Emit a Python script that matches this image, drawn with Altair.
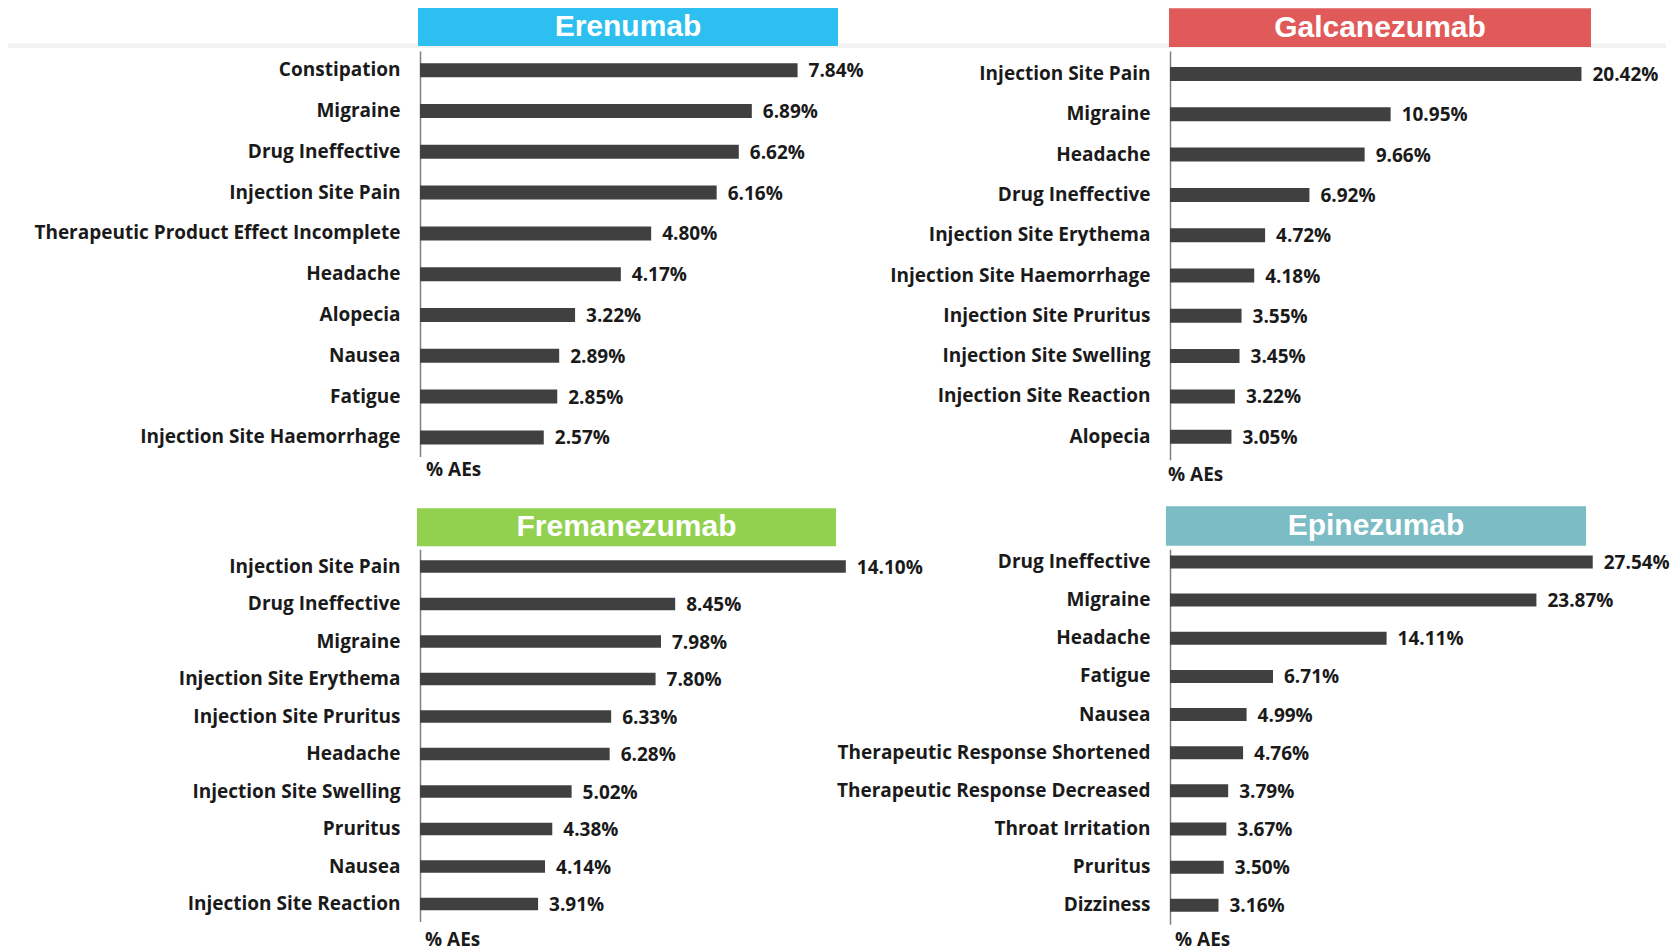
import altair as alt
import pandas as pd

# ---------------- data ----------------
ere_labels = ["Constipation", "Migraine", "Drug Ineffective", "Injection Site Pain",
              "Therapeutic Product Effect Incomplete", "Headache", "Alopecia", "Nausea",
              "Fatigue", "Injection Site Haemorrhage"]
ere_values = [7.84, 6.89, 6.62, 6.16, 4.80, 4.17, 3.22, 2.89, 2.85, 2.57]

gal_labels = ["Injection Site Pain", "Migraine", "Headache", "Drug Ineffective",
              "Injection Site Erythema", "Injection Site Haemorrhage", "Injection Site Pruritus",
              "Injection Site Swelling", "Injection Site Reaction", "Alopecia"]
gal_values = [20.42, 10.95, 9.66, 6.92, 4.72, 4.18, 3.55, 3.45, 3.22, 3.05]

fre_labels = ["Injection Site Pain", "Drug Ineffective", "Migraine", "Injection Site Erythema",
              "Injection Site Pruritus", "Headache", "Injection Site Swelling", "Pruritus",
              "Nausea", "Injection Site Reaction"]
fre_values = [14.10, 8.45, 7.98, 7.80, 6.33, 6.28, 5.02, 4.38, 4.14, 3.91]

epi_labels = ["Drug Ineffective", "Migraine", "Headache", "Fatigue", "Nausea",
              "Therapeutic Response Shortened", "Therapeutic Response Decreased",
              "Throat Irritation", "Pruritus", "Dizziness"]
epi_values = [27.54, 23.87, 14.11, 6.71, 4.99, 4.76, 3.79, 3.67, 3.50, 3.16]

drugs = ["Erenumab", "Galcanezumab", "Fremanezumab", "Epinezumab"]
drug_colors = ["#2dbfef", "#e15a5a", "#92d050", "#7bbcc5"]
axis_title = "% AEs"

FONT = "Open Sans"
FS = 19
BAR = "#404040"
TXT = "#1a1a1a"
W = 420


def panel(name, color, labels, values, xmax, height, p_in, p_out, align,
          box, title_xy, band=False):
    df = pd.DataFrame({"ae": labels, "pct": values,
                       "txt": [f"{v:.2f}%" for v in values]})
    ysc = alt.Scale(paddingInner=p_in, paddingOuter=p_out, align=align)
    x = alt.X("pct:Q",
              scale=alt.Scale(domain=[0, xmax], nice=False, zero=True),
              axis=None)
    y = alt.Y("ae:N", sort=labels, scale=ysc,
              axis=alt.Axis(title=None, ticks=False, labelPadding=20, grid=False,
                            domainColor="#7f7f7f", domainWidth=1.5,
                            labelFont=FONT, labelFontSize=FS, labelFontWeight="bold",
                            labelColor=TXT, labelLimit=600))
    base = alt.Chart(df)
    bars = base.mark_bar(color=BAR).encode(x=x, y=y)
    vals = base.mark_text(align="left", baseline="middle", dx=11, dy=1, font=FONT,
                          fontSize=FS, fontWeight="bold", color=TXT).encode(
        x=alt.X("pct:Q"), y=alt.Y("ae:N", sort=labels), text="txt:N")
    hdr = alt.Chart(pd.DataFrame({"name": [name], "unit": [axis_title]}))
    x0, x1, y0, y1 = box
    rect = hdr.mark_rect(color=color).encode(
        x=alt.value(x0), x2=alt.value(x1), y=alt.value(y0), y2=alt.value(y1))
    ttl = hdr.mark_text(align="center", baseline="middle", font="Liberation Sans",
                        fontSize=30, fontWeight="bold", color="white").encode(
        x=alt.value((x0 + x1) / 2), y=alt.value((y0 + y1) / 2), text="name:N")
    unit = hdr.mark_text(align="left", baseline="middle", font=FONT, fontSize=FS,
                         fontWeight="bold", color=TXT).encode(
        x=alt.value(title_xy[0]), y=alt.value(height + title_xy[1]), text="unit:N")
    layers = []
    if band:
        layers.append(hdr.mark_rect(color="#f2f2f2").encode(
            x=alt.value(-412), x2=alt.value(1246), y=alt.value(-7.5), y2=alt.value(-3)))
    layers += [rect, ttl, bars, vals, unit]
    return alt.layer(*layers).properties(width=W, height=height)


ere = panel(drugs[0], drug_colors[0], ere_labels, ere_values, W / 48.16,
            405.6, 0.657, 0.299, 0.5, (-2, 418, -43, -5), (6, 13.5), band=True)
gal = panel(drugs[1], drug_colors[1], gal_labels, gal_values, W / 20.15,
            408.7, 0.6526, 0.397, 0.5, (-1, 421, -42.7, -4), (-2, 15.3))
fre = panel(drugs[2], drug_colors[2], fre_labels, fre_values, W / 30.2,
            372.1, 0.6667, 0.295, 0.5, (-3, 416, -41, -3), (5, 18.9))
epi = panel(drugs[3], drug_colors[3], epi_labels, epi_values, W / 15.35,
            375.0, 0.659, 0.245, 0.33, (-4, 416, -43, -3.5), (5, 16))

chart = alt.concat(ere, gal, fre, epi, columns=2,
                   spacing={"row": 89.3, "column": 330},
                   bounds="flush").properties(
    padding=0, background="white").configure_view(stroke="transparent", strokeWidth=0)

chart.save("out.html", embed_options={"renderer": "svg", "actions": False})
